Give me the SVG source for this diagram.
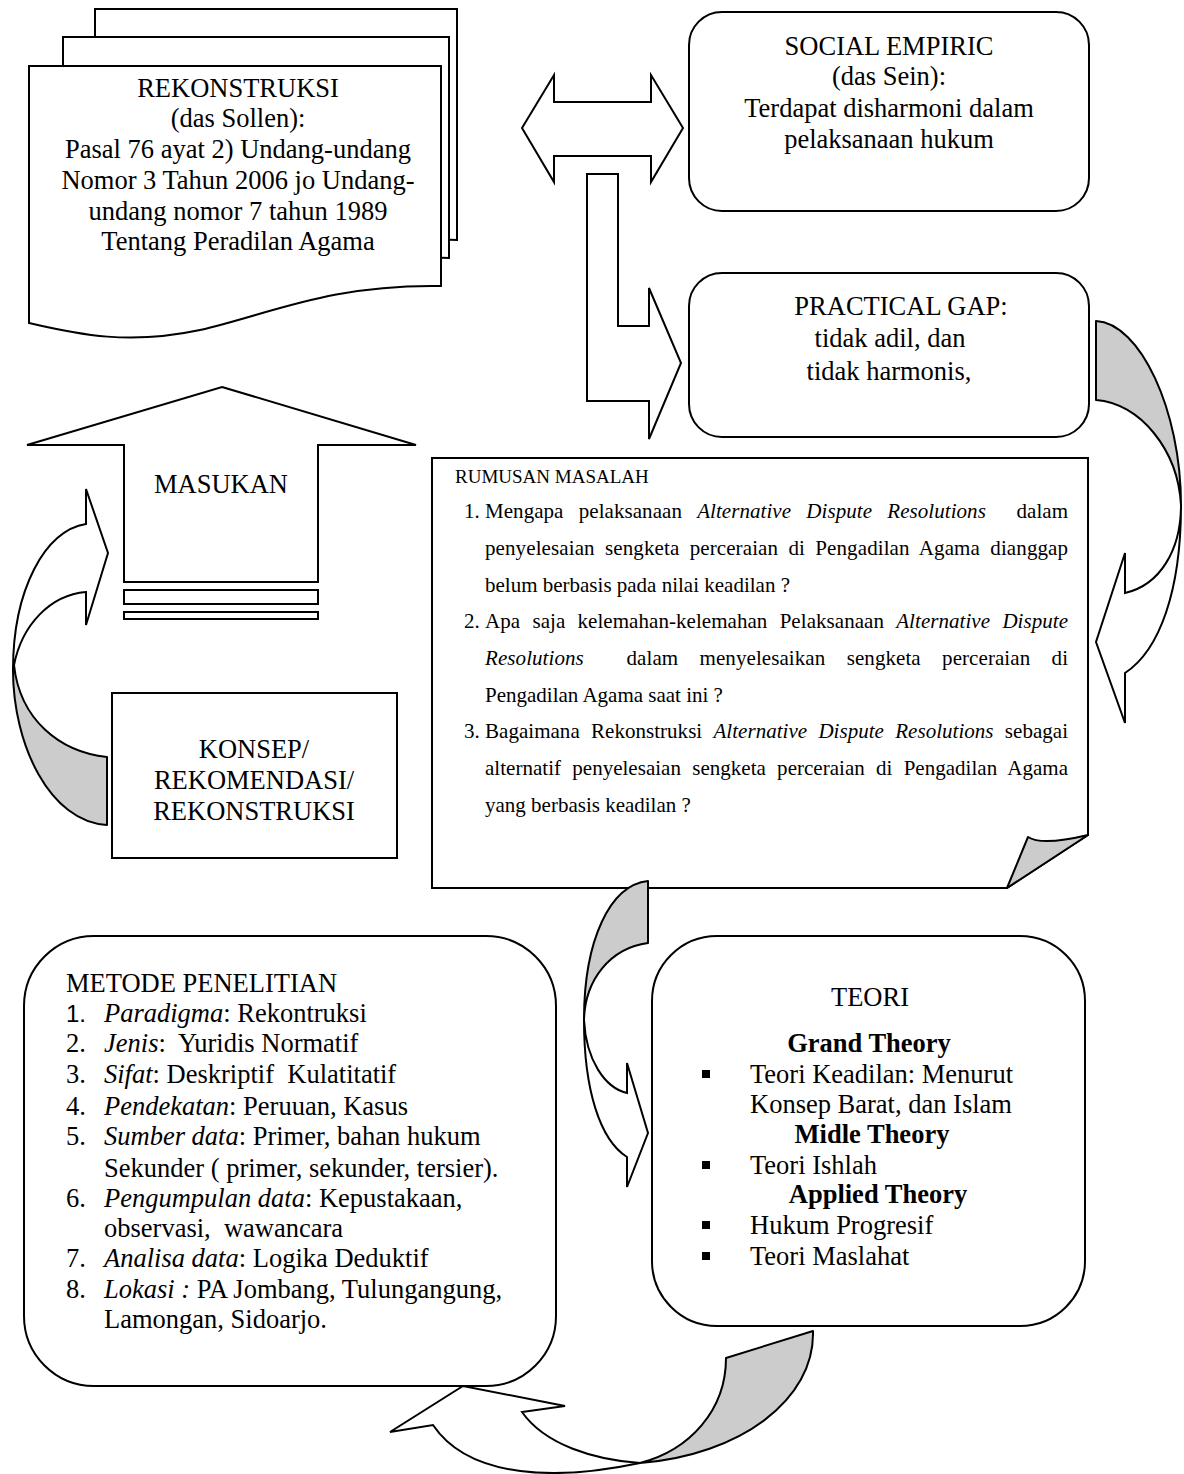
<svg xmlns="http://www.w3.org/2000/svg" width="1184" height="1474" viewBox="0 0 1184 1474">
<style>
.s{fill:#fff;stroke:#000;stroke-width:2;stroke-linejoin:miter}
.g{fill:#cccccc;stroke:#000;stroke-width:2;stroke-linejoin:round}
.w{fill:#fff;stroke:#000;stroke-width:2;stroke-linejoin:miter}
.t{font-family:"Liberation Serif","Times New Roman",serif;font-size:26.5px;fill:#000}
.c{text-anchor:middle}
.r{font-family:"Liberation Serif","Times New Roman",serif;font-size:21px;fill:#000}
.h{font-size:19px}
.i{font-style:italic}
.b{font-weight:bold}
.n{font-family:"Liberation Sans",Arial,sans-serif;font-size:24px}
</style>
<rect width="1184" height="1474" fill="#fff"/>

<g id="rekonstruksi">
<path class="s" d="M95,9 H457 V240 C 400,236 340,258 280,268 C 200,281 140,276 95,268 Z"/>
<path class="s" d="M63,37 H449 V258 C 380,254 320,278 260,290 C 180,304 110,298 63,292 Z"/>
<path class="s" d="M29,66 H441 V286 C 330,284 270,314 200,330 C 130,345 80,335 29,323 Z"/>
<text class="t c" x="238" y="97">REKONSTRUKSI</text>
<text class="t c" x="238" y="127">(das Sollen):</text>
<text class="t c" x="238" y="158">Pasal 76 ayat 2) Undang-undang</text>
<text class="t c" x="238" y="189">Nomor 3 Tahun 2006 jo Undang-</text>
<text class="t c" x="238" y="220">undang nomor 7 tahun 1989</text>
<text class="t c" x="238" y="250">Tentang Peradilan Agama</text>
</g>

<g id="social-empiric">
<rect class="s" x="689" y="12" width="400" height="199" rx="33" ry="33"/>
<text class="t c" x="889" y="55">SOCIAL EMPIRIC</text>
<text class="t c" x="889" y="85">(das Sein):</text>
<text class="t c" x="889" y="117">Terdapat disharmoni dalam</text>
<text class="t c" x="889" y="148">pelaksanaan hukum</text>
</g>

<g id="practical-gap">
<rect class="s" x="689" y="273" width="400" height="164" rx="33" ry="33"/>
<text class="t c" x="901" y="315">PRACTICAL GAP:</text>
<text class="t c" x="890" y="347">tidak adil, dan</text>
<text class="t c" x="889" y="380">tidak harmonis,</text>
</g>

<g id="rumusan-masalah">
<path class="s" d="M432,458 H1088 V835 L1007,888 H432 Z"/>
<path class="g" d="M1007,888 L1028,837 Q1042,846 1088,835 Z"/>
<text class="r h" x="455" y="483">RUMUSAN MASALAH</text>
<text class="r" x="464" y="518">1.</text>
<text class="r" x="485" y="518" word-spacing="10" textLength="583" lengthAdjust="spacing">Mengapa pelaksanaan <tspan class="i">Alternative Dispute Resolutions</tspan>&#160; dalam</text>
<text class="r" x="485" y="555" word-spacing="5" textLength="583" lengthAdjust="spacing">penyelesaian sengketa perceraian di Pengadilan Agama dianggap</text>
<text class="r" x="485" y="592">belum berbasis pada nilai keadilan ?</text>
<text class="r" x="464" y="628">2.</text>
<text class="r" x="485" y="628" word-spacing="7" textLength="583" lengthAdjust="spacing">Apa saja kelemahan-kelemahan Pelaksanaan <tspan class="i">Alternative Dispute</tspan></text>
<text class="r" x="485" y="665" word-spacing="16" textLength="583" lengthAdjust="spacing"><tspan class="i">Resolutions</tspan>&#160; dalam menyelesaikan sengketa perceraian di</text>
<text class="r" x="485" y="702">Pengadilan Agama saat ini ?</text>
<text class="r" x="464" y="738">3.</text>
<text class="r" x="485" y="738" word-spacing="6" textLength="583" lengthAdjust="spacing">Bagaimana Rekonstruksi <tspan class="i">Alternative Dispute Resolutions</tspan> sebagai</text>
<text class="r" x="485" y="775" word-spacing="6" textLength="583" lengthAdjust="spacing">alternatif penyelesaian sengketa perceraian di Pengadilan Agama</text>
<text class="r" x="485" y="812">yang berbasis keadilan ?</text>
</g>

<g id="konsep">
<rect class="s" x="112" y="693" width="285" height="165"/>
<text class="t c" x="254" y="758">KONSEP/</text>
<text class="t c" x="254" y="789">REKOMENDASI/</text>
<text class="t c" x="254" y="820">REKONSTRUKSI</text>
</g>

<g id="metode-penelitian">
<rect class="s" x="24" y="936" width="532" height="450" rx="70" ry="70"/>
<text class="t" x="66" y="992">METODE PENELITIAN</text>
<text class="t n" x="66" y="1022">1.</text>
<text class="t" x="104" y="1022"><tspan class="i">Paradigma</tspan>: Rekontruksi</text>
<text class="t" x="66" y="1052">2.</text>
<text class="t" x="104" y="1052"><tspan class="i">Jenis</tspan>:&#160; Yuridis Normatif</text>
<text class="t" x="66" y="1083">3.</text>
<text class="t" x="104" y="1083"><tspan class="i">Sifat</tspan>: Deskriptif&#160; Kulatitatif</text>
<text class="t" x="66" y="1115">4.</text>
<text class="t" x="104" y="1115"><tspan class="i">Pendekatan</tspan>: Peruuan, Kasus</text>
<text class="t" x="66" y="1145">5.</text>
<text class="t" x="104" y="1145"><tspan class="i">Sumber data</tspan>: Primer, bahan hukum</text>
<text class="t" x="104" y="1177">Sekunder ( primer, sekunder, tersier).</text>
<text class="t" x="66" y="1207">6.</text>
<text class="t" x="104" y="1207"><tspan class="i">Pengumpulan data</tspan>: Kepustakaan,</text>
<text class="t" x="104" y="1237">observasi,&#160; wawancara</text>
<text class="t" x="66" y="1267">7.</text>
<text class="t" x="104" y="1267"><tspan class="i">Analisa data</tspan>: Logika Deduktif</text>
<text class="t" x="66" y="1298">8.</text>
<text class="t" x="104" y="1298"><tspan class="i">Lokasi :</tspan> PA Jombang, Tulungangung,</text>
<text class="t" x="104" y="1328">Lamongan, Sidoarjo.</text>
</g>

<g id="teori">
<rect class="s" x="652" y="936" width="433" height="390" rx="65" ry="65"/>
<text class="t c" x="870" y="1006">TEORI</text>
<text class="t c b" x="869" y="1052">Grand Theory</text>
<rect x="702" y="1070" width="8" height="8" fill="#000"/>
<text class="t" x="750" y="1083">Teori Keadilan: Menurut</text>
<text class="t" x="750" y="1113">Konsep Barat, dan Islam</text>
<text class="t c b" x="872" y="1143">Midle Theory</text>
<rect x="702" y="1161" width="8" height="8" fill="#000"/>
<text class="t" x="750" y="1174">Teori Ishlah</text>
<text class="t c b" x="878" y="1203">Applied Theory</text>
<rect x="702" y="1221" width="8" height="8" fill="#000"/>
<text class="t" x="750" y="1234">Hukum Progresif</text>
<rect x="702" y="1252" width="8" height="8" fill="#000"/>
<text class="t" x="750" y="1265">Teori Maslahat</text>
</g>

<g id="connectors">
<polygon class="s" points="522,128 554,75 554,102 651,102 651,75 683,128 651,182 651,156 554,156 554,182"/>
<polygon class="s" points="587,174 618,174 618,326 649,326 649,288 681,363 649,439 649,401 587,401"/>
<g id="masukan">
<polygon class="s" points="222,387 416,445 318,445 318,582 124,582 124,445 27,445"/>
<rect class="s" x="124" y="590" width="194" height="14"/>
<rect class="s" x="124" y="612" width="194" height="7"/>
<text class="t c" x="221" y="493">MASUKAN</text>
</g>
<g id="arrow-konsep-masukan">
<path class="g" d="M107,825 C 50,822 13,745 13,670 L14,665 C 20,720 60,752 107,757 Z"/>
<path class="w" d="M13,670 C 13,590 45,530 86,524 L86,489 L108,553 L86,625 L86,592 C 50,595 22,625 14,665 Z"/>
</g>
<g id="arrow-gap-rumusan">
<path class="g" d="M1096,321 C 1140,323 1181,410 1181,505 C 1178,450 1140,403 1096,400 Z"/>
<path class="w" d="M1181,505 C 1181,590 1160,650 1125,673 L1125,723 L1096,642 L1125,553 L1125,593 C 1160,585 1181,550 1181,505 Z"/>
</g>
<g id="arrow-rumusan-teori">
<path class="g" d="M648,881 C 610,885 584,940 584,1020 C 585,980 610,948 648,943 Z"/>
<path class="w" d="M584,1020 C 584,1090 600,1140 627,1157 L627,1187 L648,1133 L627,1063 L627,1093 C 605,1088 586,1060 584,1020 Z"/>
</g>
<g id="arrow-teori-metode">
<path class="g" d="M813,1331 C 815,1400 740,1455 640,1463 C 690,1450 726,1410 726,1358 Z"/>
<path class="w" d="M640,1463 C 560,1480 470,1480 433,1425 L390,1432 L463,1386 L565,1406 L522,1412 C 545,1445 595,1460 640,1463 Z"/>
</g>
</g>
</svg>
